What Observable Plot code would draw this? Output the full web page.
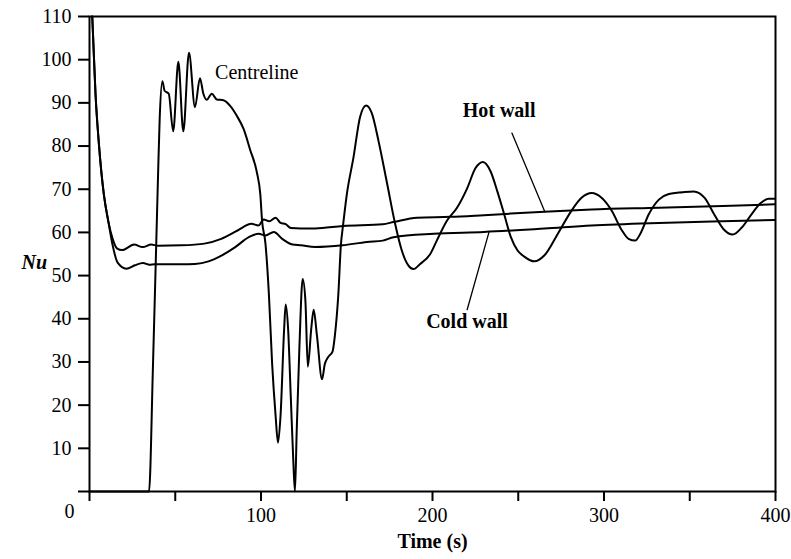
<!DOCTYPE html>
<html>
<head>
<meta charset="utf-8">
<script src="https://cdn.jsdelivr.net/npm/d3@7"></script>
<script src="https://cdn.jsdelivr.net/npm/@observablehq/plot@0.6"></script>
<style>
  html, body { margin: 0; padding: 0; background: white; }
</style>
</head>
<body>
<div id="chart"></div>
<script>
// Time axis (s) and Nusselt number readings
const hotTime = [1.6, 2, 3.5, 5.5, 8.4, 11, 13.5, 16, 19, 26, 31, 36, 40, 53.6, 67, 76.8, 86.6, 94.4, 98.5, 101.6, 104.8, 108.5, 111.4, 114.4, 117.4, 123.3, 131.6, 147.8, 171, 177.3, 190.9, 210.4, 230, 265.3, 292.7, 331.9, 369.1, 399.5];
const hotNu = [110, 106.3, 92.1, 80.4, 68.7, 62.5, 58.5, 56.3, 55.9, 57.2, 56.6, 57.2, 56.9, 57.0, 57.4, 58.5, 60.5, 62.0, 61.6, 63.0, 62.6, 63.4, 62.2, 61.9, 61.0, 60.9, 60.9, 61.5, 61.9, 62.4, 63.4, 63.6, 64.0, 64.8, 65.3, 65.7, 66.1, 66.5];

const coldTime = [1.6, 2, 3.5, 5.5, 8.4, 11, 13.5, 16.4, 21.5, 26.5, 31.2, 35, 38, 53.7, 61.5, 69.4, 77.2, 85, 92.9, 98.7, 102.6, 107.5, 112.4, 118.4, 123.3, 131.6, 147.6, 161.8, 171, 177.3, 200.6, 230, 265.3, 292.7, 331.9, 369.1, 399.5];
const coldNu = [110, 106.3, 92.1, 80.4, 68.7, 62.5, 57.0, 53.0, 51.6, 52.4, 52.9, 52.5, 52.6, 52.6, 52.7, 53.3, 54.7, 56.6, 58.9, 59.7, 59.3, 60.1, 58.5, 57.2, 57.0, 56.6, 57.0, 57.8, 58.1, 58.9, 59.7, 60.1, 60.9, 61.6, 62.2, 62.6, 62.9];

const centreTime = [0, 34.7, 37, 38.4, 40, 40.9, 42.5, 43.8, 46.2, 48.8, 51.8, 54.7, 58, 61.5, 64.4, 66.4, 68.3, 71.3, 74.2, 78.1, 82, 85.9, 89.9, 93.7, 97.7, 99.6, 100.6, 102.6, 104.6, 106.5, 108.5, 109.9, 111.4, 113.5, 114.4, 115.8, 117.4, 118.8, 119.8, 120.8, 122.4, 124.3, 125.9, 127.3, 129.3, 130.7, 132.6, 135.6, 137.2, 139.1, 141.7, 143.1, 145.1, 146.6, 147.8, 150, 153.9, 157.8, 161.3, 164.6, 168.5, 173.3, 178.2, 182.1, 186, 188.9, 192.8, 198.7, 202.5, 208.4, 214.3, 220.2, 225.1, 229.4, 233.9, 237.8, 241.8, 245.7, 249.6, 253.5, 259.4, 265.3, 273.1, 281, 286.9, 292.8, 298.6, 304.5, 310.4, 314.3, 318.2, 321.2, 326.1, 332, 337.8, 345.7, 352.3, 358.7, 364.2, 369.6, 375.1, 380.5, 386, 391.4, 396, 399.6];
const centreNu = [0, 0, 29, 49.6, 73.7, 86, 95, 92.8, 92.1, 83.4, 99.5, 83.4, 101.6, 89, 95.7, 92.1, 90.7, 92.1, 90.8, 90.6, 89.3, 87.0, 83.9, 79.1, 73.7, 68.8, 62.8, 57.4, 45.7, 29.5, 17.6, 11.3, 17.6, 37.7, 43.3, 37.7, 21.6, 7.4, 0, 13.7, 33.5, 49.2, 44.1, 28.9, 37.7, 42.1, 36.2, 26, 29.5, 31.1, 32.4, 36.2, 45.7, 57.2, 61.5, 68.7, 77.3, 86.8, 89.4, 87.6, 81.2, 71.8, 62.0, 55.8, 52.3, 51.5, 52.7, 55.0, 58.1, 62.7, 65.7, 70.2, 74.9, 76.3, 74.1, 69.5, 64.2, 58.9, 55.8, 54.4, 53.3, 54.7, 59.7, 65.0, 68.0, 69.1, 68.0, 65.0, 60.5, 58.5, 58.1, 59.7, 64.2, 67.6, 68.9, 69.3, 69.5, 68.0, 64.2, 60.8, 59.5, 61.2, 64.2, 66.8, 67.8, 67.8];

// Axis ticks
const xTicks = [0, 50, 100, 150, 200, 250, 300, 350, 400];
const xTickLabels = [100, 200, 300, 400];
const yTicks = [0, 10, 20, 30, 40, 50, 60, 70, 80, 90, 100, 110];
const yTickLabels = [10, 20, 30, 40, 50, 60, 70, 80, 90, 100, 110];

// Series labels and leader lines (data coordinates)
const plainLabels = [{text: "Centreline", t: 73.2, nu: 97.1}];
const boldLabels = [
  {text: "Hot wall", t: 217.6, nu: 88.1},
  {text: "Cold wall", t: 196.3, nu: 39.3}
];
const hotLeader = [{t: 246.3, nu: 83.0}, {t: 265.5, nu: 64.8}];
const coldLeader = [{t: 220.2, nu: 42.1}, {t: 232.9, nu: 60.0}];

const toRows = (ts, vs) => ts.map((t, i) => ({t, nu: vs[i]}));
const hot = toRows(hotTime, hotNu);
const cold = toRows(coldTime, coldNu);
const centre = toRows(centreTime, centreNu);

const lineOpts = {x: "t", y: "nu", stroke: "black", strokeWidth: 2, curve: "monotone-x"};

const chart = Plot.plot({
  width: 791,
  height: 559,
  marginLeft: 89,
  marginRight: 16,
  marginTop: 16,
  marginBottom: 68,
  style: {fontFamily: "'Liberation Serif', 'Times New Roman', serif", fontSize: "20px", background: "white", color: "black"},
  x: {type: "linear", domain: [0, 400]},
  y: {type: "linear", domain: [0, 110]},
  marks: [
    Plot.frame({stroke: "black", strokeWidth: 2}),
    Plot.axisX({ticks: xTicks, tickSize: 10, tickPadding: 6, strokeWidth: 2,
      tickFormat: d => xTickLabels.includes(d) ? String(d) : "", label: null}),
    Plot.axisY({ticks: yTicks, tickSize: 11, tickPadding: 7, strokeWidth: 2,
      tickFormat: d => yTickLabels.includes(d) ? String(d) : "", label: null}),
    Plot.text(["0"], {frameAnchor: "bottom-left", text: d => d, dx: -25, dy: 26}),
    Plot.line(hot, lineOpts),
    Plot.line(cold, lineOpts),
    Plot.line(centre, lineOpts),
    Plot.line(hotLeader, {x: "t", y: "nu", stroke: "black", strokeWidth: 1.3}),
    Plot.line(coldLeader, {x: "t", y: "nu", stroke: "black", strokeWidth: 1.3}),
    Plot.text(plainLabels, {x: "t", y: "nu", text: "text", textAnchor: "start", fill: "black"}),
    Plot.text(boldLabels, {x: "t", y: "nu", text: "text", textAnchor: "start", fontWeight: "bold", fill: "black"}),
    Plot.text(["Nu"], {frameAnchor: "left", text: d => d, dx: -68, dy: 8.5, fontWeight: "bold", fontStyle: "italic"}),
    Plot.text(["Time (s)"], {frameAnchor: "bottom", text: d => d, dy: 56, fontWeight: "bold"})
  ]
});

document.getElementById("chart").appendChild(chart);
</script>
</body>
</html>
